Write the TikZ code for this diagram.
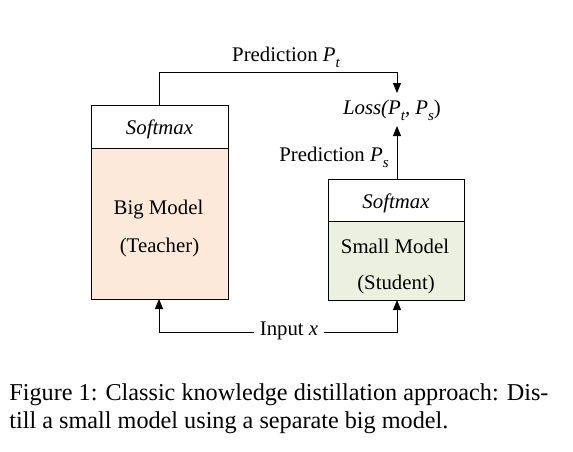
\documentclass[tikz,border=0pt]{standalone}
\usepackage{fontspec}
\setmainfont{Liberation Serif}
\usetikzlibrary{arrows.meta}
\definecolor{peach}{HTML}{FCE9DA}
\definecolor{sage}{HTML}{EBF0DF}
\newcommand{\sbs}[1]{\raisebox{-0.3em}{\fontsize{15}{15}\selectfont\itshape #1}}
\begin{document}
\begin{tikzpicture}[x=1pt,y=-1pt,line width=0.9pt,
  lbl/.style={font=\fontsize{20.8}{24}\selectfont,inner sep=1pt},
  arr/.style={-{Triangle[width=8pt,length=10pt]}},
  box/.style={draw,line width=0.9pt}]
\useasboundingbox (0,0) rectangle (573,451);
% big model
\draw[box,fill=peach] (91,148) rectangle (228,299);
\draw[box,fill=white] (91,105) rectangle (228,148);
\node[lbl] (bsm) at (159.5,129) {\itshape Softmax};
\node[lbl] (big) at (158.5,210) {Big Model};
\node[lbl] (bigt) at (159.5,247) {(Teacher)};
\coordinate (bigtop) at (159,105);
\coordinate (bigbot) at (159,299);
% small model
\draw[box,fill=sage] (328,221) rectangle (464,300);
\draw[box,fill=white] (328,179) rectangle (464,221);
\node[lbl] (ssm) at (396,203) {\itshape Softmax};
\node[lbl] (small) at (395,246) {Small Model};
\node[lbl] (smallt) at (396,284) {(Student)};
\coordinate (smalltop) at (397,179);
\coordinate (smallbot) at (397,300);
% loss
\node[lbl] (loss) at (392,110) {\itshape Loss(P\sbs{t}, P\sbs{s}\upshape)};
\node[lbl] (predt) at (286,57) {Prediction \textit{P}\sbs{t}};
\node[lbl] (preds) at (334,157) {Prediction \textit{P}\sbs{s}};
\node[lbl,fill=white,inner sep=5pt] (inp) at (289,331) {Input \textit{x}};
\coordinate (c1) at (159,72);
\coordinate (c2) at (397,72);
\draw[arr] (bigtop) -- (c1) -- (c2) -- (397,93);
\draw[arr] (smalltop) -- (397,126);
\coordinate (i1) at (159,332);
\coordinate (i2) at (397,332);
\draw[arr] (inp.west |- i1) -- (i1) -- (bigbot);
\draw[arr] (inp.east |- i2) -- (i2) -- (smallbot);
% caption
\node[anchor=base west,inner sep=0pt,font=\fontsize{24.2}{28}\selectfont] (cap1) at (9,400.5) {Figure 1: Classic knowledge distillation approach: Dis-};
\node[anchor=base west,inner sep=0pt,font=\fontsize{24.2}{28}\selectfont] (cap2) at (9,428.5) {till a small model using a separate big model.};
\end{tikzpicture}
\end{document}
